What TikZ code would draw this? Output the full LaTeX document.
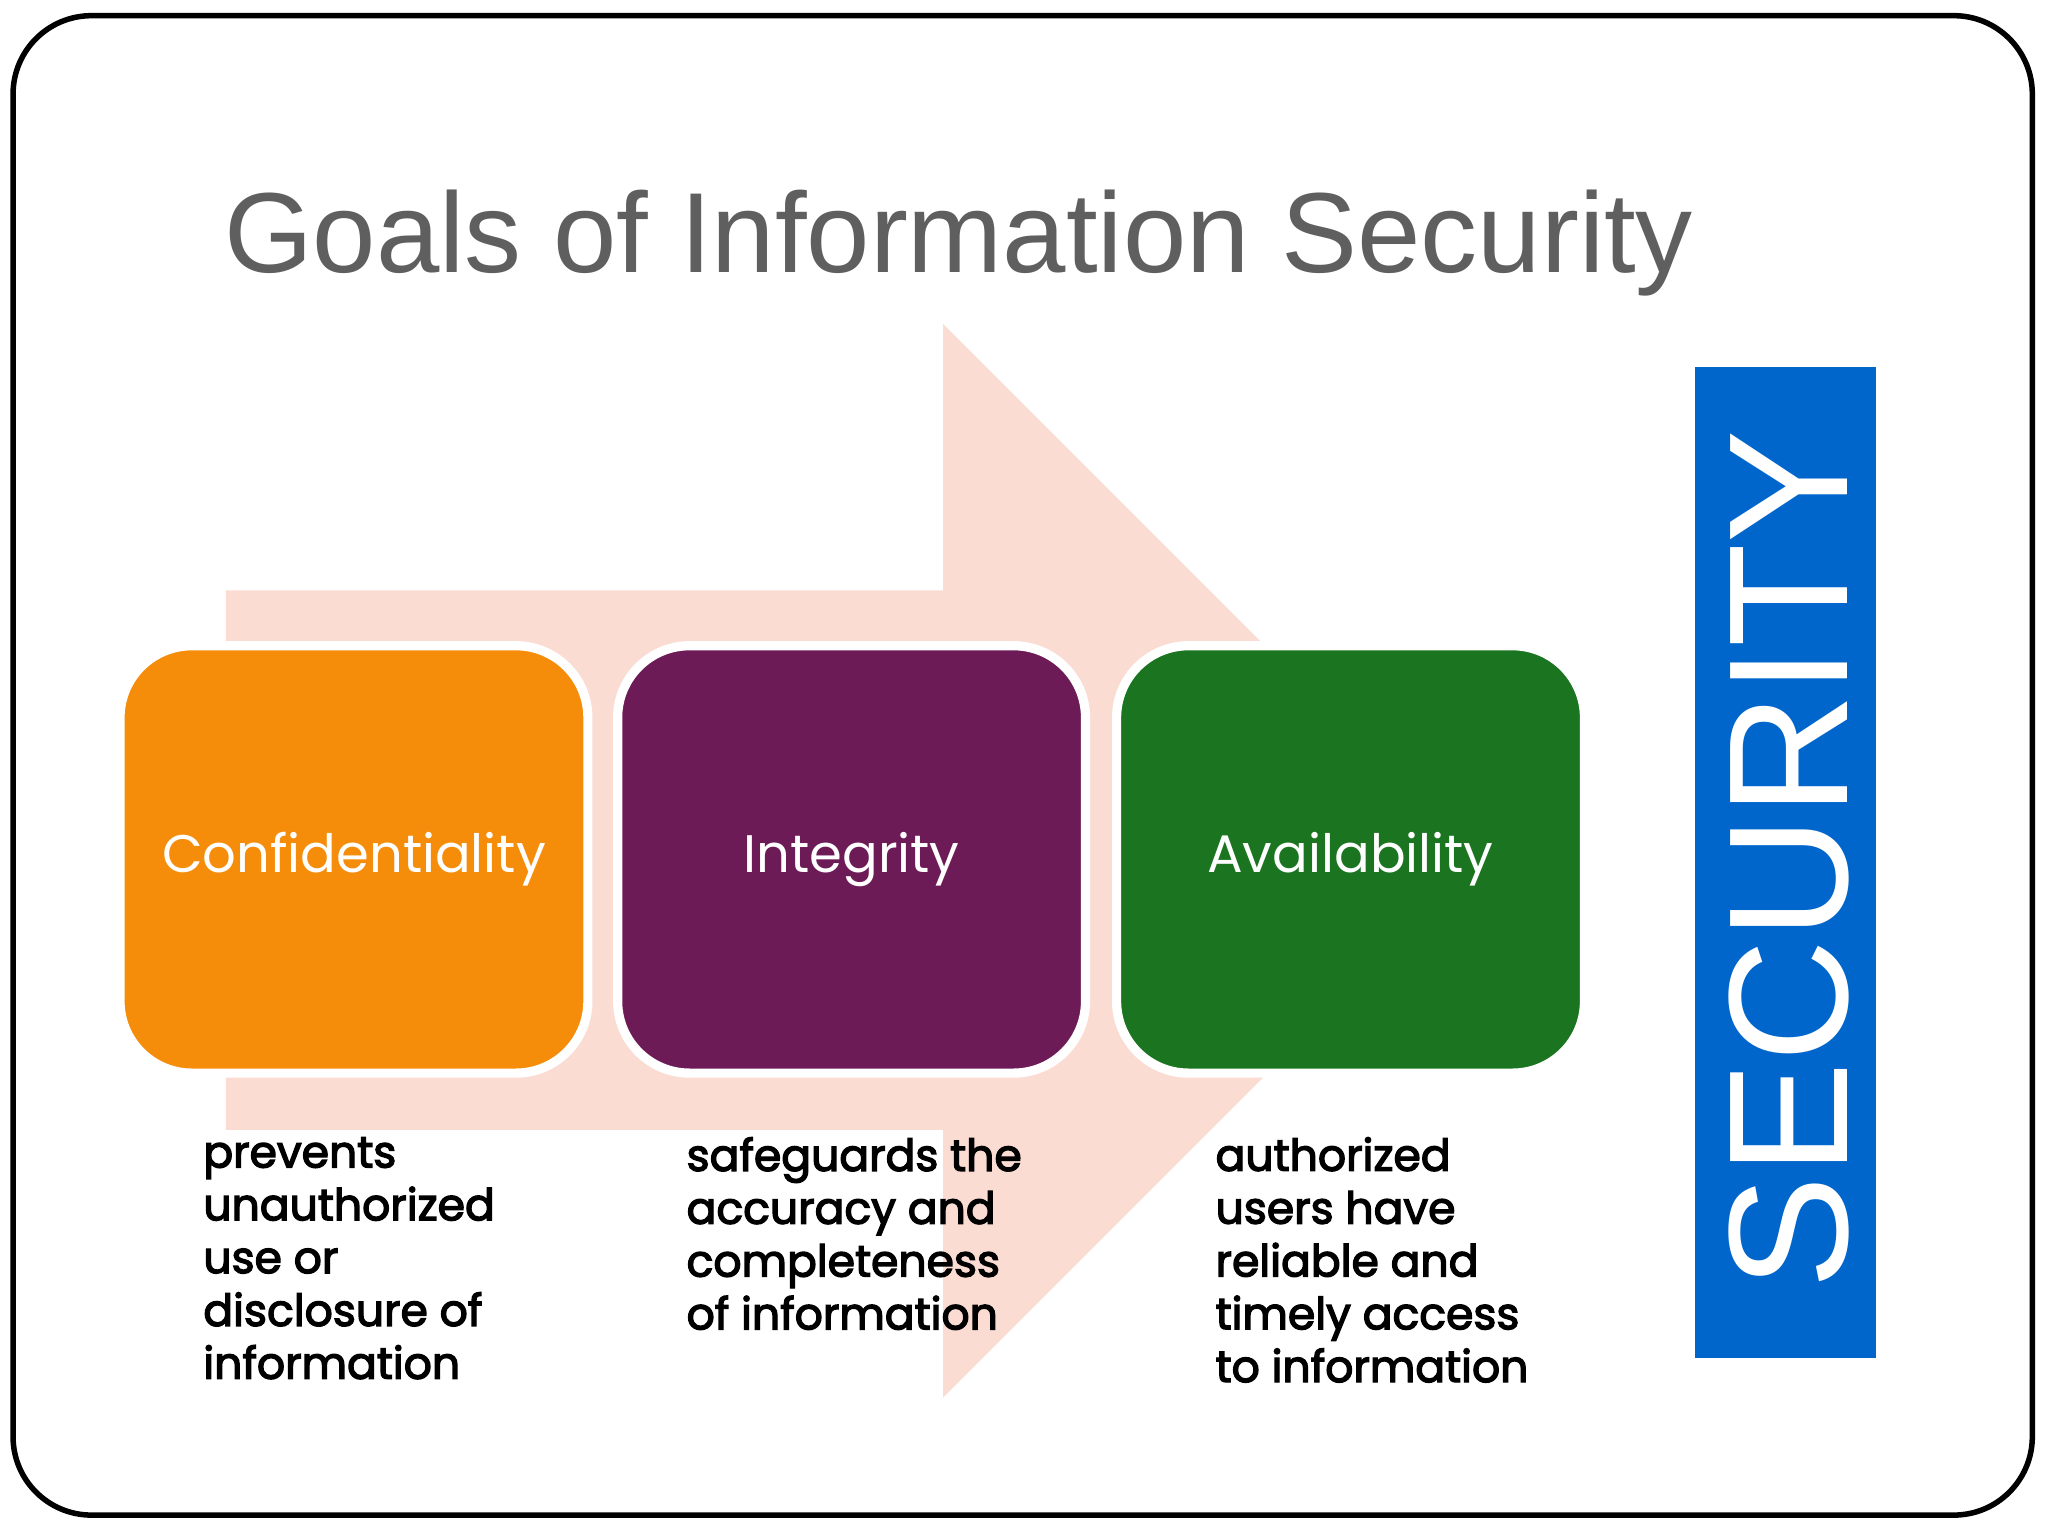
\documentclass[tikz,border=0pt]{standalone}
\usepackage{fontspec}
\setmainfont{Liberation Sans}
\newfontfamily\geo{Poppins}
\newfontfamily\geob[FakeBold=3]{Poppins}
\definecolor{tgray}{HTML}{5F5F5F}
\definecolor{arrowpink}{HTML}{FADCD3}
\definecolor{corange}{HTML}{F68D0A}
\definecolor{cpurple}{HTML}{6D1B57}
\definecolor{cgreen}{HTML}{1B7520}
\definecolor{cblue}{HTML}{0066CC}
\begin{document}
\begin{tikzpicture}[x=0.01cm,y=-0.01cm,
  goal/.style={draw=white,line width=2pt,rounded corners=0.55cm,minimum width=3.58cm,minimum height=3.27cm,text=white,font=\geo\fontsize{11.5}{14}\selectfont},
  desc/.style={anchor=north west,align=left,font=\geob\fontsize{9.6}{11.5}\selectfont,inner sep=0pt}]
\useasboundingbox (0,0) rectangle (1568,1176);
\fill[white] (0,0) rectangle (1568,1176);
\draw[line width=1.2pt,rounded corners=0.6cm] (10,12) rectangle (1556,1160);
\node[text=tgray,font=\fontsize{24.8}{28}\selectfont] (title) at (734,186) {Goals of Information Security};
\fill[arrowpink] (173,452) -- (722,452) -- (722,248) -- (1133,659) -- (722,1070) -- (722,865) -- (173,865) -- cycle;
\node[goal,fill=corange] (c) at (271,658) {\raisebox{-0.06cm}{Confidentiality}};
\node[goal,fill=cpurple] (i) at (652,658) {\raisebox{-0.06cm}{Integrity}};
\node[goal,fill=cgreen] (a) at (1034,658) {\raisebox{-0.06cm}{Availability}};
\node[desc] (dc) at (155,870) {prevents\\unauthorized\\use or\\disclosure of\\information};
\node[desc] (di) at (525,870) {safeguards the\\accuracy and\\completeness\\of information};
\node[desc] (da) at (930,870) {authorized\\users have\\reliable and\\timely access\\to information};
\fill[cblue] (1298,281) rectangle (1436,1040);
\node[rotate=90,text=white,font=\fontsize{37}{40}\selectfont] (sec) at (1370,658) {SECURITY};
\end{tikzpicture}
\end{document}
